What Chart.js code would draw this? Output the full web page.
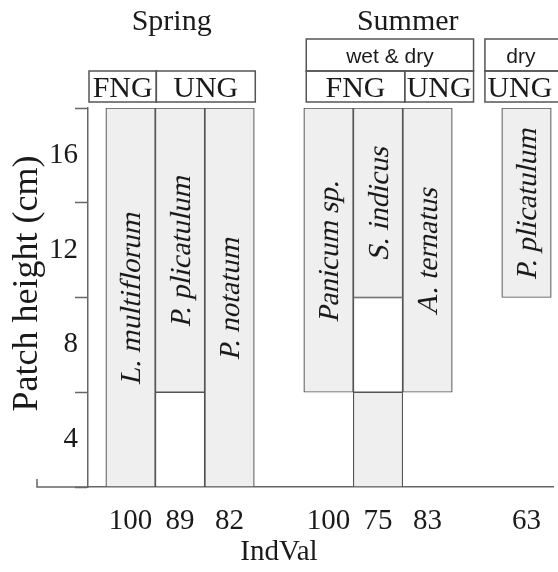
<!DOCTYPE html>
<html>
<head>
<meta charset="utf-8">
<script src="https://cdn.jsdelivr.net/npm/chart.js@4/dist/chart.umd.min.js"></script>
<style>
  html, body { margin: 0; padding: 0; background: #fff; }
  canvas { display: block; }
</style>
</head>
<body>
<canvas id="chart" width="558" height="572"></canvas>
<script>
// One column per indicator species; '' marks the blank space between groups
const species = ['L. multiflorum', 'P. plicatulum', 'P. notatum', '', 'Panicum sp.', 'S. indicus', 'A. ternatus', '', 'P. plicatulum'];
const indVal = ['100', '89', '82', '', '100', '75', '83', '', '63'];

// Patch-height ranges (cm): shaded indicator band of each species
const upperBand = [[2, 18], [6, 18], [2, 18], null, [6, 18], [10, 18], [6, 18], null, [10, 18]];
// open (unshaded) part of the column below the band
const openBand = [null, [2, 6], null, null, null, [6, 10], null, null, null];
// second shaded block at the bottom of the column
const lowerBand = [null, null, null, null, null, [2, 6], null, null, null];

const yLabels = [4, 8, 12, 16];
const yTitle = 'Patch height (cm)';

// Header texts
const seasons = ['Spring', 'Summer'];
const regimes = ['wet & dry', 'dry'];
const grazing = ['FNG', 'UNG', 'FNG', 'UNG', 'UNG'];

// Header geometry, in x-axis units (column index); null = left edge of the plot
const headerLayout = {
  seasonSpan: [[null, 2.5], [3.5, 7.7]],
  regimeSpan: [[3.55, 6.93], [7.16, 9.2]],
  grazingSpan: [[null, 0.52], [0.52, 2.52], [3.55, 5.54], [5.54, 6.93], [7.16, 9.2]],
  seasonBaseline: 30,
  regimeTop: 39, regimeBottom: 71, regimeBaseline: 63,
  grazingTop: 71, grazingBottom: 102, grazingBaseline: 97
};

const INK = '#1a1a1a';
const LINE = '#555';
const FILL = '#efefef';
const SERIF = '"Liberation Serif", "Times New Roman", serif';
const SANS = '"Liberation Sans", Arial, sans-serif';

const toPoints = band => band
  .map((r, i) => (r ? { x: i, y: r } : null))
  .filter(p => p !== null);

const barStyle = {
  borderColor: LINE,
  borderWidth: 1.2,
  borderSkipped: false,
  grouped: false,
  barPercentage: 1,
  categoryPercentage: 1
};

// Season titles, grazing / regime boxes, y-axis title and the baseline hook
const headerPlugin = {
  id: 'headers',
  afterDraw(chart) {
    const { ctx, chartArea, scales } = chart;
    const x = scales.x;
    const px = v => (v === null ? chartArea.left + 1 : x.getPixelForValue(v));
    const L = headerLayout;
    ctx.save();
    ctx.fillStyle = INK;
    ctx.strokeStyle = LINE;
    ctx.lineWidth = 1.5;
    ctx.textAlign = 'center';
    ctx.textBaseline = 'alphabetic';

    ctx.font = '30px ' + SERIF;
    seasons.forEach((s, i) => {
      const [a, b] = L.seasonSpan[i];
      ctx.fillText(s, (px(a) + px(b)) / 2, L.seasonBaseline);
    });

    ctx.font = '21px ' + SANS;
    regimes.forEach((s, i) => {
      const [a, b] = L.regimeSpan[i];
      const x0 = px(a), x1 = px(b);
      ctx.strokeRect(x0, L.regimeTop, x1 - x0, L.regimeBottom - L.regimeTop);
      const cx = x1 > chart.width ? x0 + 36 : (x0 + x1) / 2;
      ctx.fillText(s, cx, L.regimeBaseline);
    });

    ctx.font = '30px ' + SERIF;
    grazing.forEach((s, i) => {
      const [a, b] = L.grazingSpan[i];
      const x0 = px(a), x1 = px(b);
      ctx.strokeRect(x0, L.grazingTop, x1 - x0, L.grazingBottom - L.grazingTop);
      const cx = x1 > chart.width ? x0 + 35 : (x0 + x1) / 2;
      ctx.fillText(s, cx, L.grazingBaseline);
    });

    // y-axis title, set slightly above the middle of the plot
    ctx.save();
    ctx.font = '36px ' + SERIF;
    ctx.textBaseline = 'middle';
    ctx.translate(28, (chartArea.top + chartArea.bottom) / 2 - 14);
    ctx.rotate(-Math.PI / 2);
    ctx.fillText(yTitle, 0, 0);
    ctx.restore();

    // baseline runs on to the left of the y axis, ending in a short hook
    const yb = scales.y.getPixelForValue(scales.y.min);
    const xEnd = chartArea.left - 51;
    ctx.strokeStyle = '#666';
    ctx.beginPath();
    ctx.moveTo(xEnd, yb - 8);
    ctx.lineTo(xEnd, yb);
    ctx.lineTo(chartArea.left, yb);
    ctx.stroke();
    ctx.restore();
  }
};

// Species names written upright (slanted) inside the shaded band of each column
const nameplatePlugin = {
  id: 'nameplates',
  afterDatasetsDraw(chart) {
    const { ctx } = chart;
    const meta = chart.getDatasetMeta(0);
    const pts = chart.data.datasets[0].data;
    ctx.save();
    ctx.fillStyle = INK;
    ctx.font = '29px ' + SERIF;
    ctx.textAlign = 'center';
    ctx.textBaseline = 'middle';
    meta.data.forEach((bar, j) => {
      const name = species[pts[j].x];
      const cy = (bar.y + bar.base) / 2;
      ctx.save();
      ctx.translate(bar.x + 2, cy);
      ctx.rotate(-Math.PI / 2);
      ctx.transform(1, 0, -0.22, 1, 0, 0);
      ctx.fillText(name, 0, 0);
      ctx.restore();
    });
    ctx.restore();
  }
};

new Chart(document.getElementById('chart'), {
  type: 'bar',
  data: {
    datasets: [
      Object.assign({ label: 'band', data: toPoints(upperBand), backgroundColor: FILL }, barStyle),
      Object.assign({ label: 'open', data: toPoints(openBand), backgroundColor: '#ffffff' }, barStyle),
      Object.assign({ label: 'lower', data: toPoints(lowerBand), backgroundColor: FILL }, barStyle)
    ]
  },
  plugins: [headerPlugin, nameplatePlugin],
  options: {
    responsive: false,
    animation: false,
    devicePixelRatio: 1,
    layout: { padding: { top: 108, left: 0, right: 0, bottom: 0 } },
    plugins: {
      legend: { display: false },
      tooltip: { enabled: false },
      title: {
        display: true,
        position: 'bottom',
        text: 'IndVal',
        color: INK,
        font: { family: SERIF, size: 29, weight: 'normal', lineHeight: 1.2 },
        padding: { top: 0, bottom: 2 }
      }
    },
    scales: {
      x: {
        type: 'linear',
        min: -0.86,
        max: 8.54,
        offset: false,
        grid: { display: false, drawTicks: false },
        border: { color: '#666', width: 1.5 },
        ticks: {
          stepSize: 1,
          includeBounds: false,
          autoSkip: false,
          maxRotation: 0,
          padding: 17,
          color: INK,
          font: { family: SERIF, size: 29, lineHeight: 1.2 },
          callback: v => indVal[v] ?? ''
        },
        afterFit: s => { s.height = 48.2; }
      },
      y: {
        min: 2,
        max: 18,
        grid: {
          drawOnChartArea: false,
          tickLength: 13,
          tickWidth: 1.5,
          tickColor: c => (c.tick && !yLabels.includes(c.tick.value) ? '#666' : 'rgba(0,0,0,0)')
        },
        border: { color: '#666', width: 1.5 },
        ticks: {
          stepSize: 2,
          autoSkip: false,
          padding: -3,
          color: INK,
          font: { family: SERIF, size: 29, lineHeight: 1.2 },
          callback: v => (yLabels.includes(v) ? String(v) : '')
        },
        afterFit: s => { s.width = 88; }
      }
    }
  }
});
</script>
</body>
</html>
